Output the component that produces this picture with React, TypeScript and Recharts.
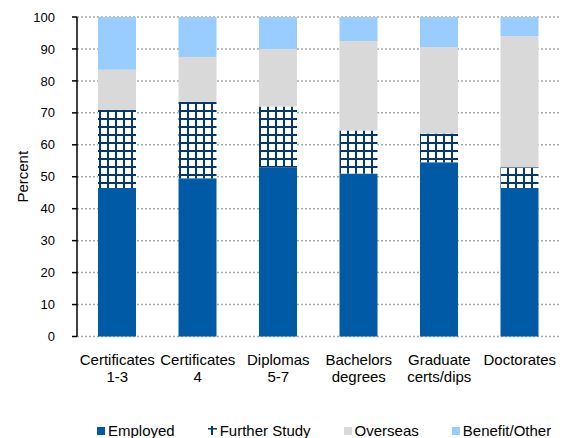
import { BarChart, Bar, XAxis, YAxis, CartesianGrid } from 'recharts';

const categories = [
  'Certificates\n1-3',
  'Certificates\n4',
  'Diplomas\n5-7',
  'Bachelors\ndegrees',
  'Graduate\ncerts/dips',
  'Doctorates',
];
const employed = [46.5, 49.5, 53, 51, 54.5, 46.5];
const furtherStudy = [24.5, 24, 19, 13.5, 9, 6.5];
const overseas = [12.5, 14, 18, 28, 27, 41];
const benefitOther = [16.5, 12.5, 10, 7.5, 9.5, 6];
const yTicks = [0, 10, 20, 30, 40, 50, 60, 70, 80, 90, 100];
const boundaryTicks = [0, 1, 2, 3, 4, 5, 6];

const FONT = '"Liberation Sans", Arial, sans-serif';
const NAVY = '#06396B';

const series = [
  { key: 'employed', name: 'Employed', fill: '#005AA5', swatch: 'square' },
  { key: 'furtherStudy', name: 'Further Study', fill: 'url(#studyGrid)', swatch: 'cross' },
  { key: 'overseas', name: 'Overseas', fill: '#D9D9D9', swatch: 'square' },
  { key: 'benefitOther', name: 'Benefit/Other', fill: '#99CCFF', swatch: 'square' },
];

const data = categories.map((category, i) => ({
  category,
  employed: employed[i],
  furtherStudy: furtherStudy[i],
  overseas: overseas[i],
  benefitOther: benefitOther[i],
}));

function CategoryTick({ x, y, payload }: any) {
  const lines = String(payload.value).split('\n');
  return (
    <text x={x} textAnchor="middle" fontSize={15} fontFamily={FONT} fill="#000">
      {lines.map((line, i) => (
        <tspan key={i} x={x} y={y + 21 + i * 17}>
          {line}
        </tspan>
      ))}
    </text>
  );
}

function PercentLabel({ viewBox }: any) {
  const cx = 22;
  const cy = viewBox.y + viewBox.height / 2;
  return (
    <text
      x={cx}
      y={cy}
      transform={`rotate(-90, ${cx}, ${cy})`}
      textAnchor="middle"
      dominantBaseline="central"
      fontSize={15}
      fontFamily={FONT}
      fill="#000"
    >
      Percent
    </text>
  );
}

function Swatch({ kind, color }: { kind: string; color: string }) {
  if (kind === 'cross') {
    return (
      <svg width={9} height={9} style={{ display: 'block' }}>
        <rect x={3} y={0} width={2} height={9} fill={NAVY} />
        <rect x={0} y={2} width={9} height={1.5} fill={NAVY} />
      </svg>
    );
  }
  return <div style={{ width: 8, height: 8, background: color }} />;
}

function ChartLegend() {
  return (
    <div
      style={{
        position: 'absolute',
        left: 97,
        top: 422,
        display: 'flex',
        alignItems: 'center',
        gap: 33,
        fontFamily: FONT,
        fontSize: 15,
        color: '#000',
        lineHeight: '17px',
      }}
    >
      {series.map((s) => (
        <div key={s.key} style={{ display: 'flex', alignItems: 'center', gap: 3 }}>
          <Swatch kind={s.swatch} color={s.fill} />
          <span>{s.name}</span>
        </div>
      ))}
    </div>
  );
}

export default function App() {
  return (
    <div style={{ position: 'relative', width: 570, height: 438, background: '#fff' }}>
      <style>{'body { margin: 0; }'}</style>
      <svg width={0} height={0} style={{ position: 'absolute' }}>
        <defs>
          <pattern id="studyGrid" patternUnits="userSpaceOnUse" width={8} height={8}>
            <rect width={8} height={8} fill="#fff" />
            <rect x={3} y={0} width={2} height={8} fill={NAVY} />
            <rect x={0} y={6} width={8} height={2} fill={NAVY} />
          </pattern>
        </defs>
      </svg>
      <BarChart
        width={570}
        height={438}
        data={data}
        margin={{ top: 17, right: 10, left: 0, bottom: 41.5 }}
        barSize={38}
      >
        <CartesianGrid
          vertical={false}
          stroke="#A8A8A8"
          strokeWidth={1.5}
          strokeDasharray="2 2"
        />
        {/* boundary ticks between categories */}
        <XAxis
          xAxisId="edges"
          type="number"
          domain={[0, 6]}
          ticks={boundaryTicks}
          height={0}
          axisLine={{ stroke: '#000', strokeWidth: 1.5 }}
          tickLine={{ stroke: '#000', strokeWidth: 1.5 }}
          tickSize={5}
          tick={() => null}
        />
        <XAxis
          xAxisId="cat"
          dataKey="category"
          height={60}
          axisLine={false}
          tickLine={false}
          tickSize={5}
          interval={0}
          tick={<CategoryTick />}
        />
        <YAxis
          width={77}
          domain={[0, 100]}
          ticks={yTicks}
          interval={0}
          axisLine={{ stroke: '#000', strokeWidth: 1.5 }}
          tickLine={{ stroke: '#000', strokeWidth: 1.5 }}
          tickSize={5}
          tickMargin={17}
          tick={{ fill: '#000', fontSize: 13, fontFamily: FONT }}
          label={<PercentLabel />}
        />
        {series.map((s) => (
          <Bar
            key={s.key}
            xAxisId="cat"
            dataKey={s.key}
            name={s.name}
            stackId="a"
            fill={s.fill}
            isAnimationActive={false}
          />
        ))}
      </BarChart>
      <ChartLegend />
    </div>
  );
}
